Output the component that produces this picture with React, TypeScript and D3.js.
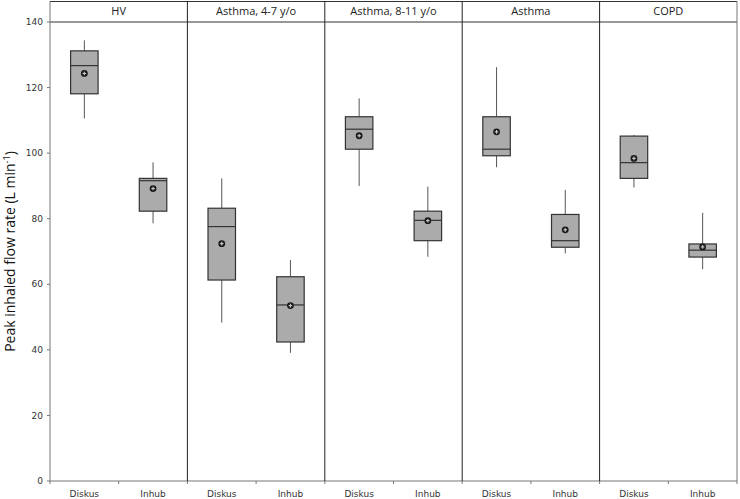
import React from "react";
import * as d3 from "d3";

const groups = ["HV", "Asthma, 4-7 y/o", "Asthma, 8-11 y/o", "Asthma", "COPD"];
const devices = ["Diskus", "Inhub"];
// per group: [Diskus, Inhub]
const whiskerLow = [[110.6, 78.6], [48.3, 39.1], [90.0, 68.4], [95.7, 69.4], [89.5, 64.6]];
const q1 = [[118.1, 82.3], [61.3, 42.4], [101.2, 73.3], [99.2, 71.3], [92.3, 68.3]];
const median = [[126.7, 91.6], [77.6, 53.7], [107.3, 79.5], [101.2, 73.3], [97.1, 70.4]];
const q3 = [[131.2, 92.3], [83.2, 62.3], [111.1, 82.3], [111.1, 81.3], [105.2, 72.3]];
const whiskerHigh = [[134.4, 97.2], [92.3, 67.4], [116.7, 89.8], [126.2, 88.8], [105.5, 81.8]];
const means = [[124.3, 89.2], [72.4, 53.5], [105.3, 79.4], [106.5, 76.6], [98.4, 71.4]];
const yTicks = [0, 20, 40, 60, 80, 100, 120, 140];

export default function App() {
  const W = 740, H = 499;
  const left = 50, right = 737, top = 22, bottom = 481, headerTop = 1;
  const x = d3.scaleBand<string>().domain(groups).range([left, right]).padding(0);
  const inner = d3.scaleBand<string>().domain(devices).range([0, x.bandwidth()]).padding(0);
  const y = d3.scaleLinear().domain([0, 140]).range([bottom, top]);
  const boxW = x.bandwidth() * 0.2;
  const tickFont = "'DejaVu Sans', sans-serif";
  const headFont = "'Open Sans', 'Noto Sans', sans-serif";

  const xTickPositions: number[] = [];
  groups.forEach((g) => {
    xTickPositions.push(x(g)!);
    xTickPositions.push(x(g)! + x.bandwidth() / 2);
  });
  xTickPositions.push(right);

  return (
    <svg width={W} height={H} style={{ position: "absolute", left: 0, top: 0 }}>
      <rect width={W} height={H} fill="#fff" />
      {/* header band */}
      <line x1={left} x2={right} y1={headerTop + 0.5} y2={headerTop + 0.5} stroke="#333" />
      <line x1={left} x2={right} y1={top} y2={top} stroke="#333" />
      {/* axes */}
      <line x1={left} x2={left} y1={headerTop} y2={bottom} stroke="#777" />
      <line x1={left} x2={right} y1={bottom} y2={bottom} stroke="#777" />
      <line x1={right} x2={right} y1={headerTop} y2={bottom} stroke="#777" />
      {groups.slice(1).map((g) => (
        <line key={g} x1={x(g)!} x2={x(g)!} y1={headerTop} y2={bottom} stroke="#222" />
      ))}
      {groups.map((g) => (
        <text key={"h" + g} x={x(g)! + x.bandwidth() / 2} y={top - 7} textAnchor="middle"
          fontFamily={headFont} fontSize={11} fill="#222">{g}</text>
      ))}
      {/* y ticks */}
      {yTicks.map((t) => (
        <g key={"y" + t}>
          <line x1={left - 3} x2={left} y1={y(t)} y2={y(t)} stroke="#777" />
          <text x={left - 7} y={y(t)} dy="0.35em" textAnchor="end" fontFamily={tickFont}
            fontSize={9} fill="#333">{t}</text>
        </g>
      ))}
      {/* x ticks */}
      {xTickPositions.map((p, i) => (
        <line key={"xt" + i} x1={p} x2={p} y1={bottom} y2={bottom + 3} stroke="#777" />
      ))}
      {groups.map((g) =>
        devices.map((d) => (
          <text key={"xl" + g + d} x={x(g)! + inner(d)! + inner.bandwidth() / 2} y={bottom + 16}
            textAnchor="middle" fontFamily={tickFont} fontSize={9} fill="#333">{d}</text>
        ))
      )}
      <text transform={`translate(15,${(top + bottom) / 2}) rotate(-90)`} textAnchor="middle"
        fontFamily={headFont} fontSize={14} fill="#111">
        Peak inhaled flow rate (L min<tspan dy="-5" fontSize={9}>-1</tspan><tspan dy="5">)</tspan>
      </text>
      {/* boxes */}
      {groups.map((g, gi) =>
        devices.map((d, di) => {
          const cx = x(g)! + inner(d)! + inner.bandwidth() / 2;
          const mx = means[gi][di];
          return (
            <g key={"b" + g + d}>
              <line x1={cx} x2={cx} y1={y(whiskerHigh[gi][di])} y2={y(q3[gi][di])} stroke="#555" />
              <line x1={cx} x2={cx} y1={y(q1[gi][di])} y2={y(whiskerLow[gi][di])} stroke="#555" />
              <rect x={cx - boxW / 2} y={y(q3[gi][di])} width={boxW}
                height={y(q1[gi][di]) - y(q3[gi][di])} fill="#ababab" stroke="#333" strokeWidth={1.2} />
              <line x1={cx - boxW / 2} x2={cx + boxW / 2} y1={y(median[gi][di])} y2={y(median[gi][di])}
                stroke="#333" strokeWidth={1.2} />
              <circle cx={cx} cy={y(mx)} r={3.4} fill="#1a1a1a" />
              <line x1={cx - 1.8} x2={cx + 1.8} y1={y(mx)} y2={y(mx)} stroke="#ccc" strokeWidth={1.1} />
              <line x1={cx} x2={cx} y1={y(mx) - 1.8} y2={y(mx) + 1.8} stroke="#ccc" strokeWidth={1.1} />
            </g>
          );
        })
      )}
    </svg>
  );
}
